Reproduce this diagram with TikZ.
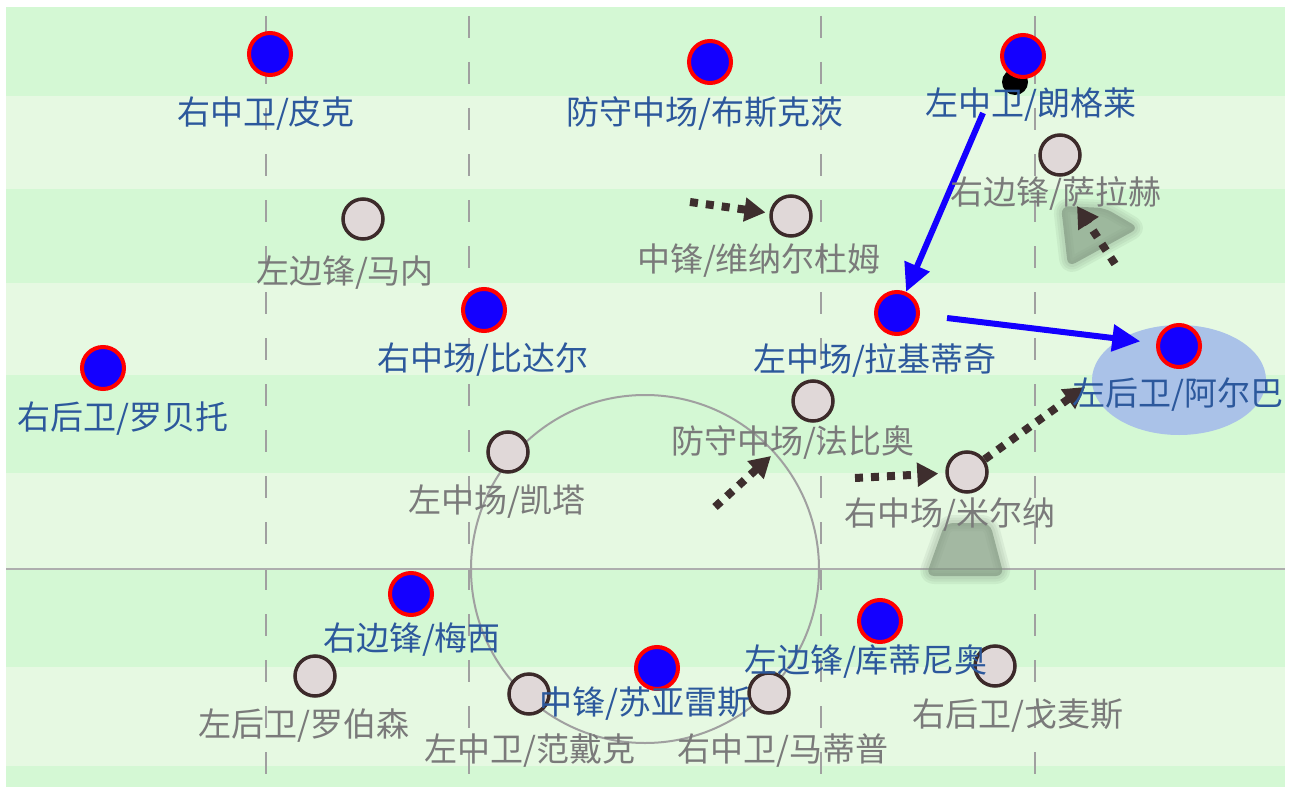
\documentclass[tikz,border=0pt]{standalone}
\usepackage{fontspec}
\newfontfamily\cjk{Noto Sans CJK SC}
\usetikzlibrary{arrows.meta}
\definecolor{stripeA}{RGB}{212,248,212}
\definecolor{stripeB}{RGB}{230,249,226}
\definecolor{fieldline}{RGB}{160,160,160}
\definecolor{labblue}{RGB}{44,88,156}
\definecolor{labgray}{RGB}{122,122,122}
\definecolor{oppfill}{RGB}{224,216,216}
\definecolor{oppline}{RGB}{60,42,42}
\definecolor{plblue}{RGB}{20,0,255}
\definecolor{arrdark}{RGB}{62,46,46}
\definecolor{shadowc}{RGB}{128,150,128}
\definecolor{zonec}{RGB}{170,194,232}
\tikzset{
  player/.style={circle,minimum size=42pt,inner sep=0pt,draw=red,line width=4pt,fill=plblue},
  opponent/.style={circle,minimum size=40pt,inner sep=0pt,draw=oppline,line width=3.5pt,fill=oppfill},
  bluelab/.style={inner sep=0pt,text=labblue,font=\cjk\fontsize{33}{38}\selectfont},
  graylab/.style={inner sep=0pt,text=labgray,font=\cjk\fontsize{33}{38}\selectfont},
  passarrow/.style={draw=plblue,line width=6pt,-{Triangle[length=28pt,width=26pt]}},
  runarrow/.style={draw=arrdark,line width=8pt,dash pattern=on 8pt off 8pt,-{Triangle[length=21pt,width=23pt]}},
  softedge/.style={draw=shadowc,draw opacity=0.12,line join=round},
  shadowcore/.style={fill=shadowc,fill opacity=0.65,rounded corners=8pt}
}
\begin{document}
\begin{tikzpicture}[x=1pt,y=-1pt]
\useasboundingbox (0,0) rectangle (1290,789);
\fill[white] (0,0) rectangle (1290,789);
% stripes
\foreach \a/\b in {7/96,189/283,375/473,568/667,766/787}
  \fill[stripeA] (6,\a) rectangle (1285,\b);
\foreach \a/\b in {96/189,283/375,473/568,667/766}
  \fill[stripeB] (6,\a) rectangle (1285,\b);
% field lines
\foreach \x in {266,469,821,1035}
  \draw[fieldline,line width=2pt,dash pattern=on 22pt off 24pt] (\x,16) -- (\x,787);
\draw[fieldline!85!white,line width=2pt] (6,569) -- (1285,569);
\draw[fieldline,line width=2pt] (645,569) circle[radius=174pt];
% shaded areas (soft edged)
\foreach \w in {16,11,6}{
  \draw[softedge,line width=\w pt,rounded corners=8pt] (1061,206) -- (1105,208) -- (1139,228) -- (1068,267) -- cycle;
  \draw[softedge,line width=\w pt,rounded corners=8pt] (945,523) -- (990,523) -- (1004,576) -- (926,576) -- cycle;
}
\fill[shadowcore] (1061,206) -- (1105,208) -- (1139,228) -- (1068,267) -- cycle;
\fill[shadowcore] (945,523) -- (990,523) -- (1004,576) -- (926,576) -- cycle;
\fill[zonec] (1179,380) ellipse[x radius=87pt,y radius=55pt];
% black marker
\fill[black] (1015,82) circle[radius=13pt];
% players
\node[player] (pique) at (270,54) {};
\node[player] (busquets) at (710,62) {};
\node[player] (lenglet) at (1023,56) {};
\node[player] (alba) at (1179,346) {};
\node[player] (rakitic) at (897,313) {};
\node[player] (vidal) at (484,310) {};
\node[player] (roberto) at (103,368) {};
\node[player] (messi) at (411,594) {};
\node[player] (suarez) at (657,668) {};
\node[player] (coutinho) at (880,621) {};
% opponents
\node[opponent] (mane) at (363,219) {};
\node[opponent] (wijnaldum) at (791,216) {};
\node[opponent] (salah) at (1060,155) {};
\node[opponent] (fabinho) at (813,401) {};
\node[opponent] (keita) at (508,452) {};
\node[opponent] (milner) at (967,472) {};
\node[opponent] (robertson) at (315,676) {};
\node[opponent] (vandijk) at (529,694) {};
\node[opponent] (matip) at (769,693) {};
\node[opponent] (gomez) at (995,666) {};
% arrow anchors
\coordinate (lgs) at (983,113);
\coordinate (rks) at (947,318);
\coordinate (ws) at (690,202);
\coordinate (ss) at (1115,264);
\coordinate (se) at (1077,206);
\coordinate (fs) at (715,507);
\coordinate (fe) at (771,456);
\coordinate (ms) at (855,478);
\coordinate (ae) at (1085,387);
% arrows
\draw[passarrow] (lgs) -- (rakitic);
\draw[passarrow,shorten >=16pt] (rks) -- (alba);
\draw[runarrow,shorten >=4pt] (ws) -- (wijnaldum);
\draw[runarrow] (ss) -- (se);
\draw[runarrow] (fs) -- (fe);
\draw[runarrow,shorten >=7pt] (ms) -- (milner);
\draw[runarrow] (milner) -- (ae);
% labels
\node[bluelab] (lpique) at (266,114) {右中卫/皮克};
\node[bluelab] (lbusquets) at (705,114) {防守中场/布斯克茨};
\node[bluelab] (llenglet) at (1031,105) {左中卫/朗格莱};
\node[bluelab] (lvidal) at (483,360) {右中场/比达尔};
\node[bluelab] (lrakitic) at (875,360) {左中场/拉基蒂奇};
\node[bluelab] (lroberto) at (123,419) {右后卫/罗贝托};
\node[bluelab] (lalba) at (1178,395) {左后卫/阿尔巴};
\node[bluelab] (lmessi) at (412,640) {右边锋/梅西};
\node[bluelab] (lsuarez) at (645,704) {中锋/苏亚雷斯};
\node[bluelab] (lcoutinho) at (866,662) {左边锋/库蒂尼奥};
\node[graylab] (lsalah) at (1056,193) {右边锋/萨拉赫};
\node[graylab] (lmane) at (345,273) {左边锋/马内};
\node[graylab] (lwijnaldum) at (759,261) {中锋/维纳尔杜姆};
\node[graylab] (lfabinho) at (793,443) {防守中场/法比奥};
\node[graylab] (lkeita) at (497,502) {左中场/凯塔};
\node[graylab] (lmilner) at (950,515) {右中场/米尔纳};
\node[graylab] (lrobertson) at (304,726) {左后卫/罗伯森};
\node[graylab] (lvandijk) at (530,751) {左中卫/范戴克};
\node[graylab] (lmatip) at (783,751) {右中卫/马蒂普};
\node[graylab] (lgomez) at (1018,716) {右后卫/戈麦斯};
\end{tikzpicture}
\end{document}
